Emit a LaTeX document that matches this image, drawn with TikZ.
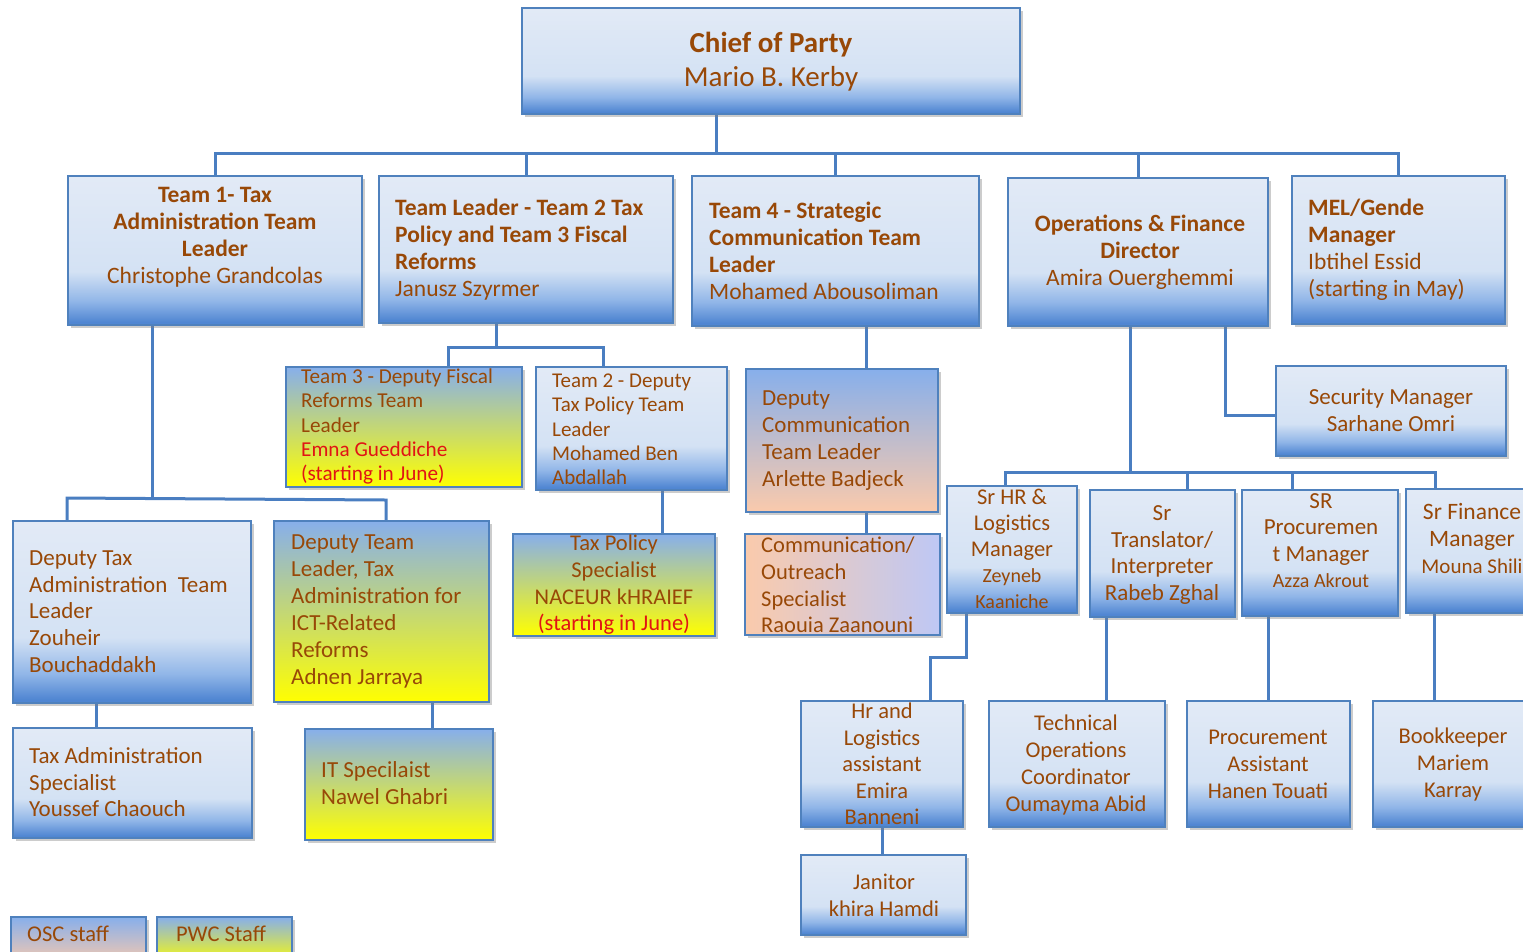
\documentclass[tikz,border=0pt]{standalone}
\usepackage{fontspec}
\setmainfont{Carlito}
\usetikzlibrary{shadows}
\pgfdeclarelayer{bg}
\pgfsetlayers{bg,main}
\definecolor{brn}{RGB}{152,72,7}
\definecolor{redc}{RGB}{225,20,20}
\definecolor{bordc}{RGB}{79,129,189}
\definecolor{connc}{RGB}{74,126,193}
\definecolor{bdark}{RGB}{80,134,210}
\definecolor{bmid}{RGB}{145,182,232}
\definecolor{bpale}{RGB}{212,226,244}
\definecolor{bpale2}{RGB}{226,234,246}
\definecolor{btop}{RGB}{135,175,235}
\definecolor{ymid}{RGB}{220,228,232}
\definecolor{peach}{RGB}{250,202,172}
\definecolor{lav}{RGB}{190,200,245}
\pgfdeclareverticalshading{boxshade}{100bp}{color(0bp)=(bdark); color(26bp)=(bdark); color(33bp)=(bmid); color(43bp)=(bpale); color(75bp)=(bpale2); color(100bp)=(bpale2)}
\newcommand\fsz[2]{\fontsize{#1}{#2}\selectfont}
\tikzset{
 bx/.style={draw=bordc, line width=2pt, rectangle, inner sep=0pt, outer sep=0pt,
   drop shadow={shadow xshift=3pt, shadow yshift=-3pt, opacity=0.4}},
 blu/.style={bx, shade, shading=boxshade},
 ylw/.style={bx, top color=btop, middle color=ymid, bottom color=yellow},
 grn/.style={bx, top color=btop, bottom color=yellow},
 pch/.style={bx, top color=btop, bottom color=peach},
 pchlr/.style={bx, left color=peach, right color=lav},
 tx/.style={text=brn, inner sep=0pt, align=center},
 txl/.style={text=brn, inner sep=0pt, align=left, anchor=west},
 conn/.style={draw=connc, line width=3pt},
}
\begin{document}
\begin{tikzpicture}[x=1pt,y=-1pt]
\useasboundingbox (0,0) rectangle (1523,951);
\begin{pgfonlayer}{bg}
\fill[white] (0,0) rectangle (1523,951);
\end{pgfonlayer}
\clip (0,0) rectangle (1523,951);

% boxes
\node[blu, minimum width=498pt, minimum height=106pt] (cop) at (771,61) {};
\node[blu, minimum width=294pt, minimum height=149pt] (t1) at (215,250.5) {};
\node[blu, minimum width=294pt, minimum height=147pt] (t2) at (526,249.5) {};
\node[blu, minimum width=287pt, minimum height=150pt] (t4) at (835.5,251) {};
\node[blu, minimum width=260pt, minimum height=148pt] (ops) at (1138,252) {};
\node[blu, minimum width=213pt, minimum height=148pt] (mel) at (1398.5,250) {};
\node[grn, minimum width=236pt, minimum height=120pt] (d3) at (404,427) {};
\node[blu, minimum width=191pt, minimum height=123pt] (d2) at (631.5,428.5) {};
\node[pch, minimum width=192pt, minimum height=143pt] (dc) at (842,440.5) {};
\node[blu, minimum width=230pt, minimum height=90pt] (sec) at (1391,411) {};
\node[blu, minimum width=130pt, minimum height=127pt] (hr) at (1012,549.5) {};
\node[blu, minimum width=145pt, minimum height=127pt] (tr) at (1162.5,553.5) {};
\node[blu, minimum width=156pt, minimum height=126pt] (pr) at (1320,553) {};
\node[blu, minimum width=132pt, minimum height=124pt] (fin) at (1472,551) {};
\node[blu, minimum width=162pt, minimum height=126pt] (hra) at (882,764) {};
\node[blu, minimum width=165pt, minimum height=80pt] (jan) at (883.5,895) {};
\node[blu, minimum width=176pt, minimum height=126pt] (tec) at (1077,764) {};
\node[blu, minimum width=163pt, minimum height=126pt] (pra) at (1268.5,764) {};
\node[blu, minimum width=160pt, minimum height=126pt] (bk) at (1453,764) {};
\node[blu, minimum width=238pt, minimum height=182pt] (dt) at (132,612) {};
\node[ylw, minimum width=215pt, minimum height=181pt] (di) at (381.5,611.5) {};
\node[blu, minimum width=239pt, minimum height=110pt] (ts) at (132.5,783) {};
\node[ylw, minimum width=188pt, minimum height=111pt] (it) at (399,784.5) {};
\node[ylw, minimum width=202pt, minimum height=102pt] (tp) at (614,585) {};
\node[pchlr, minimum width=195pt, minimum height=101pt] (co) at (842.5,584.5) {};
\node[pch, minimum width=135pt, minimum height=48pt] (osc) at (78.5,941) {};
\node[grn, minimum width=135pt, minimum height=48pt] (pwc) at (224.5,941) {};

% texts
\node[tx, font=\fsz{29}{34}] (copT) at (771,62) {\textbf{Chief of Party}\\Mario B. Kerby};
\node[tx, font=\fsz{23.5}{27}] (t1T) at (215,237) {\textbf{Team 1- Tax}\\\textbf{Administration Team}\\\textbf{Leader}\\Christophe Grandcolas};
\node[txl, font=\fsz{23.5}{27}] (t2T) at (395,249.5) {\textbf{Team Leader - Team 2 Tax}\\\textbf{Policy and Team 3 Fiscal}\\\textbf{Reforms}\\Janusz Szyrmer};
\node[txl, font=\fsz{23.5}{27}] (t4T) at (709,250.5) {\textbf{Team 4 - Strategic}\\\textbf{Communication Team}\\\textbf{Leader}\\Mohamed Abousoliman};
\node[tx, font=\fsz{23.5}{27}] (opsT) at (1140,252) {\textbf{Operations \& Finance}\\\textbf{Director}\\Amira Ouerghemmi};
\node[txl, font=\fsz{23.5}{27}] (melT) at (1308,249.5) {\textbf{MEL/Gende}\\\textbf{Manager}\\Ibtihel Essid\\(starting in May)};
\node[txl, font=\fsz{21.2}{24.3}] (d3T) at (301,426.5) {Team 3 - Deputy Fiscal\\Reforms Team\\Leader\\\textcolor{redc}{Emna Gueddiche}\\\textcolor{redc}{(starting in June)}};
\node[txl, font=\fsz{21}{24.3}] (d2T) at (552,429.5) {Team 2 - Deputy\\Tax Policy Team\\Leader\\Mohamed Ben\\Abdallah};
\node[txl, font=\fsz{23}{27}] (dcT) at (762,440.5) {Deputy\\Communication\\Team Leader\\Arlette Badjeck};
\node[tx, font=\fsz{23}{27}] (secT) at (1391,410.5) {Security Manager\\Sarhane Omri};
\node[tx, font=\fsz{22.5}{26}] (hrT) at (1012,549) {Sr HR \&\\Logistics\\Manager\\{\fsz{20}{26}Zeyneb}\\{\fsz{20}{26}Kaaniche}};
\node[tx, font=\fsz{23}{26.7}] (trT) at (1162,555) {Sr\\Translator/\\Interpreter\\Rabeb Zghal};
\node[tx, font=\fsz{23}{26.5}] (prT) at (1321,540.5) {SR\\Procuremen\\t Manager\\{\fsz{20}{26.5}Azza Akrout}};
\node[tx, font=\fsz{23.5}{27}] (finT) at (1472,538) {Sr Finance\\Manager\\{\fsz{21}{27}Mouna Shili}};
\node[tx, font=\fsz{22.5}{26.5}] (hraT) at (882,764) {Hr and\\Logistics\\assistant\\Emira\\Banneni};
\node[tx, font=\fsz{22.5}{27}] (janT) at (884,895.5) {Janitor\\khira Hamdi};
\node[tx, font=\fsz{22.5}{26.7}] (tecT) at (1076,765) {Technical\\Operations\\Coordinator\\Oumayma Abid};
\node[tx, font=\fsz{22.5}{27}] (praT) at (1268,764) {Procurement\\Assistant\\Hanen Touati};
\node[tx, font=\fsz{22.5}{27}] (bkT) at (1453,764) {Bookkeeper\\Mariem\\Karray};
\node[txl, font=\fsz{23}{26.8}] (dtT) at (29,611.5) {Deputy Tax\\Administration~~Team\\Leader\\Zouheir\\Bouchaddakh};
\node[txl, font=\fsz{23}{27}] (diT) at (291,611.5) {Deputy Team\\Leader, Tax\\Administration for\\ICT-Related\\Reforms\\Adnen Jarraya};
\node[txl, font=\fsz{23}{26.5}] (tsT) at (29,782.5) {Tax Administration\\Specialist\\Youssef Chaouch};
\node[txl, font=\fsz{23}{27}] (itT) at (321,783.5) {IT Specilaist\\Nawel Ghabri};
\node[tx, font=\fsz{22.5}{26.7}] (tpT) at (614,585) {Tax Policy\\Specialist\\NACEUR kHRAIEF\\\textcolor{redc}{(starting in June)}};
\node[txl, font=\fsz{22.5}{26.7}] (coT) at (761,585) {Communication/\\Outreach\\Specialist\\Raouia Zaanouni};
\node[txl, font=\fsz{22.5}{27}] (oscT) at (27,934) {OSC staff};
\node[tx, font=\fsz{22.5}{27}] (pwcT) at (221,934) {PWC Staff};

% connectors
\coordinate (b1) at (716,153);
\coordinate (j1) at (152,497);
\coordinate (j1a) at (67,498);
\coordinate (j1b) at (386,500);
\coordinate (j2) at (496,347);
\coordinate (j2a) at (448,347);
\coordinate (j2b) at (603,347);
\coordinate (j4) at (866,350);
\coordinate (j5) at (662,510);
\coordinate (j6) at (1225,415);
\coordinate (j7) at (1130,472);
\coordinate (j7a) at (1005,472);
\coordinate (j7b) at (1187,472);
\coordinate (j7c) at (1292,472);
\coordinate (j7d) at (1435,472);
\coordinate (j8) at (966,657);
\coordinate (j9) at (930,657);
\coordinate (j10) at (1106,660);
\coordinate (j11) at (1268,660);
\coordinate (j12) at (1434,660);
\coordinate (j13) at (96,715);
\coordinate (j14) at (432,715);
\begin{pgfonlayer}{bg}
\draw[conn] (b1 |- cop.south) -- (b1);
\draw[conn] (t1.north) -- (t1.north |- b1) -- (mel.north |- b1) -- (mel.north);
\draw[conn] (t2.north) -- (t2.north |- b1);
\draw[conn] (t4.north) -- (t4.north |- b1);
\draw[conn] (ops.north) -- (ops.north |- b1);
\draw[conn] (j1 |- t1.south) -- (j1);
\draw[conn] (j1a |- dt.north) -- (j1a) -- (j1b) -- (j1b |- di.north);
\draw[conn] (j2 |- t2.south) -- (j2);
\draw[conn] (j2a |- d3.north) -- (j2a) -- (j2b) -- (j2b |- d2.north);
\draw[conn] (j4 |- t4.south) -- (j4 |- dc.north);
\draw[conn] (j4 |- dc.south) -- (j4 |- co.north);
\draw[conn] (j5 |- d2.south) -- (j5 |- tp.north);
\draw[conn] (j6 |- ops.south) -- (j6) -- (j6 -| sec.west);
\draw[conn] (j7 |- ops.south) -- (j7);
\draw[conn] (j7a |- hr.north) -- (j7a) -- (j7d) -- (j7d |- fin.north);
\draw[conn] (j7b) -- (j7b |- tr.north);
\draw[conn] (j7c) -- (j7c |- pr.north);
\draw[conn] (j8 |- hr.south) -- (j8) -- (j9) -- (j9 |- hra.north);
\draw[conn] (hra.south) -- (hra.south |- jan.north);
\draw[conn] (j10 |- tr.south) -- (j10 |- tec.north);
\draw[conn] (j11 |- pr.south) -- (j11 |- pra.north);
\draw[conn] (j12 |- fin.south) -- (j12 |- bk.north);
\draw[conn] (j13 |- dt.south) -- (j13 |- ts.north);
\draw[conn] (j14 |- di.south) -- (j14 |- it.north);
\end{pgfonlayer}
\end{tikzpicture}
\end{document}
